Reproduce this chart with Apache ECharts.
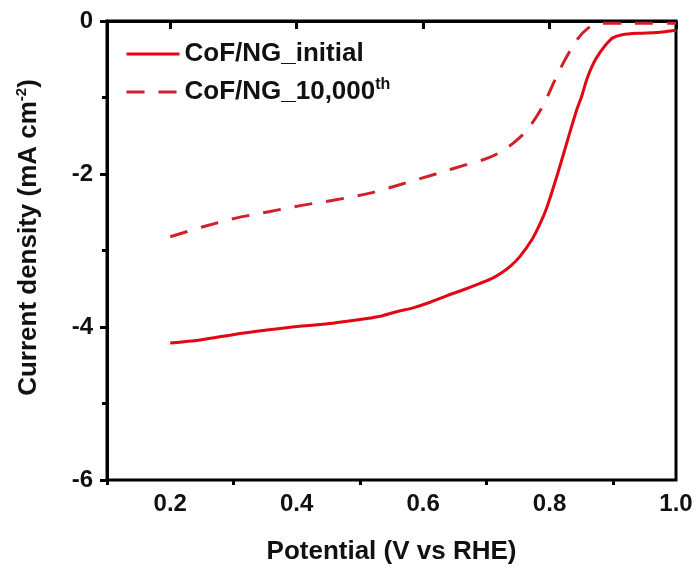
<!DOCTYPE html>
<html>
<head>
<meta charset="utf-8">
<script src="https://cdn.jsdelivr.net/npm/echarts@6/dist/echarts.min.js"></script>
<style>html,body{margin:0;padding:0;background:#fff}#c{width:700px;height:576px}</style>
</head>
<body>
<div id="c"></div>
<script>
const seriesNames = ['CoF/NG_initial', 'CoF/NG_10,000th'];
const initialX = [0.200,0.247,0.299,0.353,0.405,0.457,0.511,0.532,0.558,0.584,0.610,0.638,0.665,0.690,0.710,0.726,0.740,0.753,0.772,0.785,0.796,0.813,0.832,0.843,0.851,0.859,0.869,0.879,0.890,0.900,0.915,0.940,0.970,1.000];
const initialY = [-4.21,-4.17,-4.10,-4.04,-3.99,-3.95,-3.89,-3.86,-3.80,-3.75,-3.68,-3.59,-3.51,-3.43,-3.36,-3.28,-3.19,-3.08,-2.86,-2.65,-2.43,-1.99,-1.46,-1.16,-0.98,-0.76,-0.56,-0.42,-0.30,-0.22,-0.18,-0.16,-0.15,-0.12];
const cycledX = [0.200,0.252,0.302,0.358,0.408,0.460,0.516,0.567,0.620,0.671,0.700,0.723,0.745,0.766,0.790,0.816,0.843,0.860,0.879,0.920,0.960,1.000];
const cycledY = [-2.82,-2.69,-2.58,-2.49,-2.41,-2.34,-2.25,-2.13,-2.00,-1.87,-1.80,-1.71,-1.58,-1.41,-1.10,-0.64,-0.25,-0.10,-0.03,-0.03,-0.03,-0.03];
const xMajorTicks = [0.2,0.4,0.6,0.8,1.0];
const xMinorTicks = [0.1,0.3,0.5,0.7,0.9];

const FONT = "'Liberation Sans', Arial, sans-serif";
const pairs = (xs, ys) => xs.map((x, i) => [x, ys[i]]);

const chart = echarts.init(document.getElementById('c'), null, {renderer: 'canvas'});
chart.setOption({
  animation: false,
  backgroundColor: '#fff',
  grid: {left: 107, right: 24, top: 21, bottom: 96, show: true, borderColor: '#000', borderWidth: 3, backgroundColor: 'transparent'},
  legend: {
    left: 120, top: 34, orient: 'vertical', itemWidth: 53, itemHeight: 14, itemGap: 8,
    itemStyle: {opacity: 0},
    lineStyle: {width: 3},
    textStyle: {fontFamily: FONT, fontWeight: 'bold', fontSize: 26, color: '#111', lineHeight: 30,
      rich: {sup: {fontFamily: FONT, fontWeight: 'bold', fontSize: 16, color: '#111', padding: [0, 0, 14, 0]}}},
    formatter: n => n.endsWith('th') ? n.slice(0, -2) + '{sup|th}' : n,
    data: seriesNames
  },
  xAxis: [{
    type: 'value', min: 0.1, max: 1.0, position: 'bottom',
    axisLine: {show: true, lineStyle: {color: '#000', width: 3}},
    axisTick: {show: true, customValues: xMajorTicks, length: 8, lineStyle: {color: '#000', width: 3}},
    axisLabel: {customValues: xMajorTicks, margin: 12, fontFamily: FONT, fontWeight: 'bold', fontSize: 24, color: '#111',
      formatter: v => v.toFixed(1)},
    splitLine: {show: false},
    name: 'Potential (V vs RHE)', nameLocation: 'middle', nameGap: 59,
    nameTextStyle: {fontFamily: FONT, fontWeight: 'bold', fontSize: 26, color: '#111'}
  }, {
    type: 'value', min: 0.1, max: 1.0, position: 'bottom',
    axisLine: {show: false},
    axisTick: {show: true, customValues: xMinorTicks, length: 5, lineStyle: {color: '#000', width: 3}},
    axisLabel: {show: false}, splitLine: {show: false}
  }],
  yAxis: {
    type: 'value', min: -6, max: 0, interval: 2,
    axisLine: {show: true, lineStyle: {color: '#000', width: 3}},
    axisTick: {show: true, length: 7, lineStyle: {color: '#000', width: 3}},
    minorTick: {show: true, splitNumber: 2, length: 5, lineStyle: {color: '#000', width: 3}},
    axisLabel: {margin: 14, fontFamily: FONT, fontWeight: 'bold', fontSize: 24, color: '#111'},
    splitLine: {show: false}, minorSplitLine: {show: false},
    name: 'Current density (mA cm{sup|-2})', nameLocation: 'middle', nameGap: 64, nameRotate: 90,
    nameTextStyle: {fontFamily: FONT, fontWeight: 'bold', fontSize: 26, color: '#111', padding: [0, 0, 0, 26],
      rich: {sup: {fontFamily: FONT, fontWeight: 'bold', fontSize: 15, color: '#111', padding: [0, 0, 14, 0]}}}
  },
  series: [{
    name: seriesNames[0], type: 'line', xAxisIndex: 0, data: pairs(initialX, initialY),
    symbol: 'none', smooth: 0.3, lineStyle: {color: '#e30613', width: 3}, itemStyle: {color: '#e30613'}
  }, {
    name: seriesNames[1], type: 'line', xAxisIndex: 0, data: pairs(cycledX, cycledY),
    symbol: 'none', smooth: 0.3, lineStyle: {color: '#d0202a', width: 3, type: [18, 14]}, itemStyle: {color: '#d0202a'}
  }]
});
</script>
</body>
</html>
